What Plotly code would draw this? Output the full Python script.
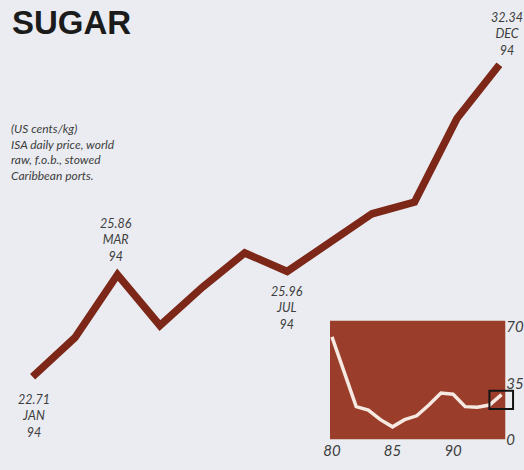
import plotly.graph_objects as go

# Monthly ISA daily price, 1994 (US cents/kg)
months = ["JAN", "FEB", "MAR", "APR", "MAY", "JUN", "JUL", "AUG", "SEP", "OCT", "NOV", "DEC"]
prices_1994 = [22.71, 23.92, 25.86, 24.29, 25.47, 26.53, 25.96, 26.83, 27.74, 28.10, 30.68, 32.34]

# Long-run annual prices for the inset (US cents/kg)
inset_years = [1980, 1981, 1982, 1983, 1984, 1985, 1986, 1987, 1988, 1989, 1990, 1991, 1992, 1993, 1994]
inset_prices = [64.0, 42.5, 20.5, 18.4, 12.4, 7.9, 12.4, 14.8, 21.5, 29.0, 28.2, 20.5, 20.1, 21.5, 28.0]
inset_xticks = [1980, 1985, 1990]
inset_xlabels = ["80", "85", "90"]
inset_yticks = [0, 35, 70]

# Highlight square marking 1994 on the inset
highlight_x = [1993.0, 1994.95]
highlight_y = [19.0, 30.4]

# Labelled points: index, side of the line, x shift, y shift (px)
labelled = [(0, "top", 1, -13), (2, "bottom", -1, 9), (6, "top", 0, -11), (11, "bottom", 8, 5)]

BG = "#eaecf1"
LINE = "#7c2718"
BOX = "#9b3d2b"
TXT = "#3d3d3d"
ITALIC = "Lato, 'Open Sans', sans-serif"

W, H = 524, 470

fig = go.Figure()

fig.add_trace(go.Scatter(
    x=list(range(len(months))), y=prices_1994, mode="lines",
    line=dict(color=LINE, width=7.5), xaxis="x", yaxis="y",
    hoverinfo="skip", showlegend=False,
))

fig.add_trace(go.Scatter(
    x=inset_years, y=inset_prices, mode="lines",
    line=dict(color="#f6e9e2", width=3.5), xaxis="x2", yaxis="y2",
    hoverinfo="skip", showlegend=False,
))

annotations = []
for idx, anchor, xs, ys in labelled:
    annotations.append(dict(
        x=idx, y=prices_1994[idx], xref="x", yref="y",
        text=f"<i>{prices_1994[idx]:.2f}<br>{months[idx]}<br>94</i>",
        showarrow=False, xanchor="center", yanchor=anchor,
        xshift=xs, yshift=ys, align="center",
        font=dict(family=ITALIC, size=12.5, color=TXT),
    ))

annotations.append(dict(
    x=0.0, y=1.0, xref="paper", yref="paper", xanchor="left", yanchor="top",
    xshift=3, yshift=1, showarrow=False,
    text="<b>SUGAR</b>",
    font=dict(family="Liberation Sans, Arial, sans-serif", size=33, color="#1b1b1b"),
))

annotations.append(dict(
    x=0.0, y=1.0, xref="paper", yref="paper", xanchor="left", yanchor="top",
    xshift=2, yshift=-116, showarrow=False, align="left",
    text="<i>(US cents/kg)<br>ISA daily price, world<br>raw, f.o.b., stowed<br>Caribbean ports.</i>",
    font=dict(family=ITALIC, size=12, color=TXT),
))

# Inset geometry in pixels
box_left, box_right, box_top, box_bottom = 328, 506, 325, 447
px_per_year = 12.3
x2_start = 1980 - (330 - box_left) / px_per_year
x2_dom = [box_left / W, 0.995]
x2_end = x2_start + (x2_dom[1] * W - box_left) / px_per_year
box_end_year = x2_start + (box_right - box_left) / px_per_year
px_per_unit = (box_bottom - 332) / 70
y2_top = (box_bottom - box_top) / px_per_unit

shapes = [
    dict(type="rect", xref="x2", yref="y2", x0=x2_start, x1=box_end_year, y0=0, y1=y2_top,
         fillcolor=BOX, line=dict(width=0), layer="below"),
    dict(type="rect", xref="x2", yref="y2", x0=highlight_x[0], x1=highlight_x[1],
         y0=highlight_y[0], y1=highlight_y[1], line=dict(color="#141414", width=2),
         fillcolor="rgba(0,0,0,0)", layer="above"),
]

fig.update_layout(
    width=W, height=H,
    margin=dict(l=0, r=0, t=0, b=0),
    paper_bgcolor=BG, plot_bgcolor="rgba(0,0,0,0)",
    xaxis=dict(domain=[0, 1], range=[-26 / 43.09, 11 + 24 / 43.09], visible=False),
    yaxis=dict(domain=[0, 1], range=[22.71 - (H - 383) / 33.02, 32.34 + 63 / 33.02], visible=False),
    xaxis2=dict(domain=x2_dom, range=[x2_start, x2_end], anchor="y2",
                tickvals=inset_xticks, ticktext=[f"<i>{t}</i>" for t in inset_xlabels],
                showgrid=False, zeroline=False, showline=False, ticks="",
                tickfont=dict(family=ITALIC, size=15, color=TXT)),
    yaxis2=dict(domain=[(H - box_bottom) / H, (H - box_top) / H], range=[0, y2_top],
                anchor="free", position=box_right / W, side="right",
                tickvals=inset_yticks, ticktext=[f"<i>{t}</i>" for t in inset_yticks],
                showgrid=False, zeroline=False, showline=False, ticks="",
                tickfont=dict(family=ITALIC, size=15, color=TXT)),
    annotations=annotations,
    shapes=shapes,
    showlegend=False,
)

fig.write_html("out.html")
